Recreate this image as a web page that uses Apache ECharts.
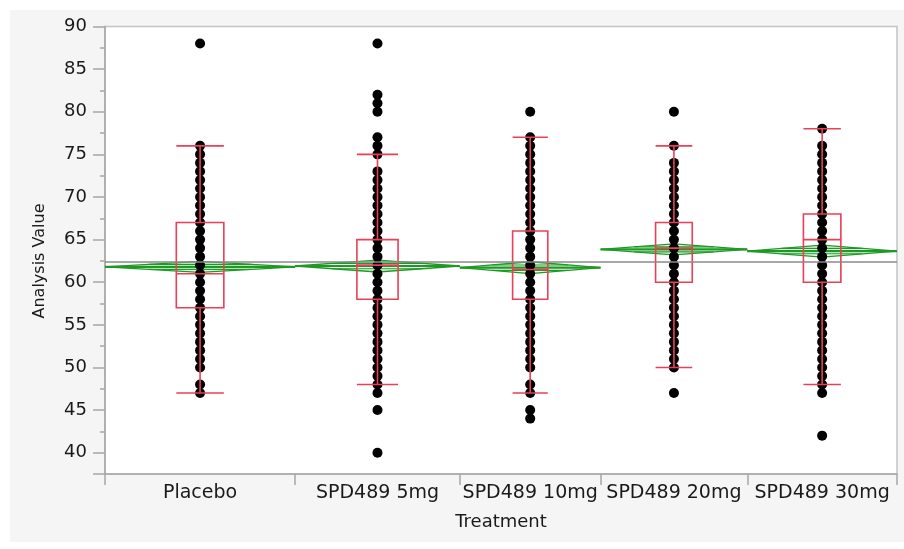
<!DOCTYPE html>
<html>
<head>
<meta charset="utf-8">
<script src="https://cdn.jsdelivr.net/npm/echarts@6/dist/echarts.min.js"></script>
<style>
html, body { margin: 0; padding: 0; background: #fff; }
#chart { width: 904px; height: 549px; }
</style>
</head>
<body>
<div id="chart"></div>
<script>
// treatment groups, x width of each group follows its sample size
var treatments = ['Placebo', 'SPD489 5mg', 'SPD489 10mg', 'SPD489 20mg', 'SPD489 30mg'];
var groupSize = [127, 110, 94, 98, 100];

// distinct analysis values seen in each group
var placeboValues = [47, 48, 50, 51, 52, 53, 54, 55, 56, 57, 58, 59, 60, 61, 62, 63, 64, 65, 66, 67, 68, 69, 70, 71, 72, 73, 74, 75, 76, 88];
var mg5Values = [40, 45, 47, 48, 49, 50, 51, 52, 53, 54, 55, 56, 57, 58, 59, 60, 61, 62, 63, 64, 65, 66, 67, 68, 69, 70, 71, 72, 73, 75, 76, 77, 80, 81, 82, 88];
var mg10Values = [44, 45, 47, 48, 50, 51, 52, 53, 54, 55, 56, 57, 58, 59, 60, 61, 62, 63, 64, 65, 66, 67, 68, 69, 70, 71, 72, 73, 74, 75, 76, 77, 80];
var mg20Values = [47, 50, 51, 52, 53, 54, 55, 56, 57, 58, 59, 60, 61, 62, 63, 64, 65, 66, 67, 68, 69, 70, 71, 72, 73, 74, 76, 80];
var mg30Values = [42, 47, 48, 49, 50, 51, 52, 53, 54, 55, 56, 57, 58, 59, 60, 61, 62, 63, 64, 65, 66, 67, 68, 69, 70, 71, 72, 73, 74, 75, 76, 78];

// box plot: [low whisker, q1, median, q3, high whisker]
var boxStats = [
  [47, 57, 61, 67, 76],
  [48, 58, 62, 65, 75],
  [47, 58, 61.5, 66, 77],
  [50, 60, 64, 67, 76],
  [48, 60, 65, 68, 78]
];

// means diamonds
var groupMeans = [61.8, 61.9, 61.7, 63.85, 63.65];
var ciHalf = [0.65, 0.7, 0.7, 0.65, 0.7];
var grandMean = 62.35;

var yMajorTicks = [37.5, 40, 45, 50, 55, 60, 65, 70, 75, 80, 85, 90];
var yLabelTicks = [40, 45, 50, 55, 60, 65, 70, 75, 80, 85, 90];
var yMinorTicks = [42.5, 47.5, 52.5, 57.5, 62.5, 67.5, 72.5, 77.5, 82.5, 87.5];

// group edges and centres on the x scale
var edges = [0];
groupSize.forEach(function (n, i) { edges.push(edges[i] + n); });
var centers = groupSize.map(function (n, i) { return edges[i] + n / 2; });
var xMax = edges[edges.length - 1];

var allValues = [placeboValues, mg5Values, mg10Values, mg20Values, mg30Values];
var dots = [];
allValues.forEach(function (vals, i) {
  vals.forEach(function (v) { dots.push([centers[i], v]); });
});

var green = '#1c9a24';
var red = '#ea3f56';
var axisGray = '#a6a6a6';
var txt = '#1a1a1a';
var font = 'DejaVu Sans';

function renderDiamond(params, api) {
  var x0 = api.value(0), x1 = api.value(1), m = api.value(2), h = api.value(3);
  var xc = (x0 + x1) / 2;
  var L = api.coord([x0, m]), R = api.coord([x1, m]);
  var T = api.coord([xc, m + h]), B = api.coord([xc, m - h]);
  var o = h * 0.45, w = (x1 - x0) * 0.27;
  var a1 = api.coord([xc - w, m + o]), a2 = api.coord([xc + w, m + o]);
  var b1 = api.coord([xc - w, m - o]), b2 = api.coord([xc + w, m - o]);
  return {
    type: 'group',
    children: [
      { type: 'polygon', shape: { points: [L, T, R, B] }, style: { fill: 'rgba(30,150,40,0.08)', stroke: green, lineWidth: 1.3 } },
      { type: 'line', shape: { x1: L[0], y1: L[1], x2: R[0], y2: R[1] }, style: { stroke: green, lineWidth: 2.2 } },
      { type: 'line', shape: { x1: a1[0], y1: a1[1], x2: a2[0], y2: a2[1] }, style: { stroke: green, lineWidth: 1.1 } },
      { type: 'line', shape: { x1: b1[0], y1: b1[1], x2: b2[0], y2: b2[1] }, style: { stroke: green, lineWidth: 1.1 } }
    ]
  };
}

function renderBox(params, api) {
  var c = api.value(0), size = api.value(1);
  var lo = api.value(2), q1 = api.value(3), md = api.value(4), q3 = api.value(5), hi = api.value(6);
  var hw = size * 0.125;
  var xl = api.coord([c - hw, md])[0], xr = api.coord([c + hw, md])[0], xm = api.coord([c, md])[0];
  var y = function (v) { return api.coord([c, v])[1]; };
  var st = { stroke: red, lineWidth: 1.6, fill: 'none' };
  return {
    type: 'group',
    children: [
      { type: 'rect', shape: { x: xl, y: y(q3), width: xr - xl, height: y(q1) - y(q3) }, style: st },
      { type: 'line', shape: { x1: xl, y1: y(md), x2: xr, y2: y(md) }, style: st },
      { type: 'line', shape: { x1: xm, y1: y(hi), x2: xm, y2: y(q3) }, style: st },
      { type: 'line', shape: { x1: xm, y1: y(q1), x2: xm, y2: y(lo) }, style: st },
      { type: 'line', shape: { x1: xl, y1: y(hi), x2: xr, y2: y(hi) }, style: st },
      { type: 'line', shape: { x1: xl, y1: y(lo), x2: xr, y2: y(lo) }, style: st }
    ]
  };
}

var chart = echarts.init(document.getElementById('chart'));
chart.setOption({
  animation: false,
  backgroundColor: '#f5f5f5',
  graphic: [
    { type: 'rect', left: 0, top: 0, shape: { width: 904, height: 10 }, style: { fill: '#fff' } },
    { type: 'rect', left: 0, top: 0, shape: { width: 10, height: 549 }, style: { fill: '#fff' } },
    { type: 'rect', left: 0, top: 542, shape: { width: 904, height: 7 }, style: { fill: '#fff' } },
    {
      type: 'text', x: 40, y: 261, rotation: Math.PI / 2,
      style: { text: 'Analysis Value', fill: txt, font: '16px "DejaVu Sans"', align: 'center', verticalAlign: 'middle' }
    }
  ],
  grid: {
    left: 105, right: 7, top: 26.5, bottom: 75,
    show: true, backgroundColor: '#fff', borderColor: '#c4c4c4', borderWidth: 1.5
  },
  xAxis: {
    type: 'value', min: 0, max: xMax,
    name: 'Treatment', nameLocation: 'middle', nameGap: 39,
    nameTextStyle: { color: txt, fontFamily: font, fontSize: 18 },
    axisLine: { show: true, lineStyle: { color: axisGray, width: 1.5 } },
    axisTick: { show: true, customValues: edges, length: 11, lineStyle: { color: axisGray, width: 1.5 } },
    axisLabel: {
      customValues: centers, margin: 10, color: txt, fontFamily: font, fontSize: 19,
      formatter: function (v) {
        var i = centers.indexOf(v);
        return i >= 0 ? treatments[i] : '';
      }
    },
    splitLine: { show: false }
  },
  yAxis: [
    {
      type: 'value', min: 37.5, max: 90, position: 'left',
      axisLine: { show: true, lineStyle: { color: axisGray, width: 1.5 } },
      axisTick: { show: true, customValues: yMajorTicks, length: 12, lineStyle: { color: axisGray, width: 1.5 } },
      axisLabel: { customValues: yLabelTicks, margin: 18, color: txt, fontFamily: font, fontSize: 18 },
      splitLine: { show: false }
    },
    {
      type: 'value', min: 37.5, max: 90, position: 'left',
      axisLine: { show: false },
      axisTick: { show: true, customValues: yMinorTicks, length: 5, lineStyle: { color: axisGray, width: 1.5 } },
      axisLabel: { show: false },
      splitLine: { show: false }
    }
  ],
  series: [
    {
      type: 'custom', name: 'means', z: 2, clip: false,
      renderItem: renderDiamond,
      data: groupMeans.map(function (m, i) { return [edges[i], edges[i + 1], m, ciHalf[i]]; }),
      markLine: {
        silent: true, symbol: 'none', label: { show: false },
        lineStyle: { color: '#8a8a8a', type: 'solid', width: 1.5 },
        data: [{ yAxis: grandMean }]
      }
    },
    {
      type: 'scatter', name: 'values', z: 3,
      symbolSize: 10,
      itemStyle: { color: '#000', opacity: 1 },
      data: dots
    },
    {
      type: 'custom', name: 'box', z: 4, clip: false,
      renderItem: renderBox,
      data: boxStats.map(function (b, i) { return [centers[i], groupSize[i]].concat(b); })
    }
  ]
});
</script>
</body>
</html>
